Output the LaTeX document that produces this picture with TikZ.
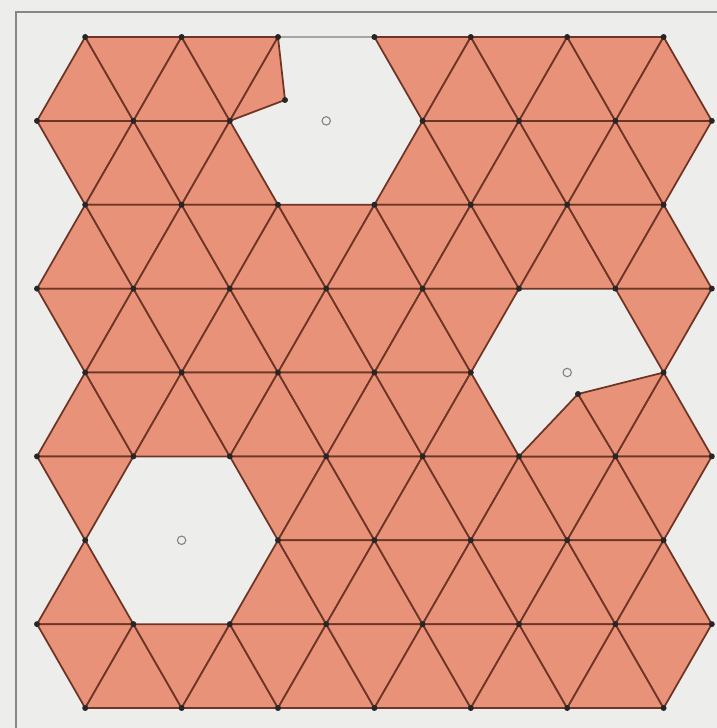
\documentclass[tikz,border=0pt]{standalone}
\usepackage{xcolor}
\usetikzlibrary{calc}

\definecolor{tilefill}{RGB}{232,147,121}
\definecolor{tileedge}{RGB}{110,52,38}
\definecolor{paper}{RGB}{237,238,236}
\definecolor{framegray}{RGB}{135,135,135}

\tikzset{
  tile/.style={fill=tilefill,draw=tileedge,line width=1pt,line join=round},
  site/.style={fill=black!85},
  hollow/.style={draw=gray,line width=0.6pt},
}

\begin{document}
\begin{tikzpicture}[x=0.02cm,y=-0.02cm]
% page and frame
\fill[paper] (0,0) rectangle (717,728);
\useasboundingbox (0,0) rectangle (717,728);
\draw[framegray,line width=1.6pt] (16,728) -- (16,12) -- (717,12);

% lattice sites
\foreach \j in {0,...,8}
  \foreach \i in {0,...,14}{
    \ifodd\numexpr\i+\j\relax
      \coordinate (v\i-\j) at ({37+\i*48.2},{37+\j*83.875});
    \fi
  }
\coordinate (d1) at (285,100);
\coordinate (d2) at (578,394);

% top edge of the first hole
\draw[gray!70,line width=1pt] (v5-0) -- (v7-0);

% triangles, holes left out
\foreach \j in {0,...,7}
  \foreach \i in {0,...,12}{
    \pgfmathtruncatemacro{\hole}{(\j==0 && \i>=4 && \i<=6) || (\j==1 && \i>=4 && \i<=6) || (\j==3 && \i>=9 && \i<=11) || (\j==4 && \i>=9 && \i<=11) || (\j==5 && \i>=1 && \i<=3) || (\j==6 && \i>=1 && \i<=3)}
    \ifnum\hole=0
      \pgfmathtruncatemacro{\ib}{\i+1}
      \pgfmathtruncatemacro{\ic}{\i+2}
      \pgfmathtruncatemacro{\ra}{\j+1-mod(\i+\j,2)}
      \pgfmathtruncatemacro{\rb}{\j+1-mod(\ib+\j,2)}
      \pgfmathtruncatemacro{\rc}{\j+1-mod(\ic+\j,2)}
      \filldraw[tile] (v\i-\ra) -- (v\ib-\rb) -- (v\ic-\rc) -- cycle;
    \fi
  }

% displaced triangles at the holes
\filldraw[tile] (v4-1) -- (v5-0) -- (d1) -- cycle;
\filldraw[tile] (v10-5) -- (d2) -- (v12-5) -- cycle;
\filldraw[tile] (d2) -- (v13-4) -- (v12-5) -- cycle;

% sites
\foreach \j in {0,...,8}
  \foreach \i in {0,...,14}{
    \ifodd\numexpr\i+\j\relax
      \pgfmathtruncatemacro{\ctr}{(\i==6 && \j==1) || (\i==11 && \j==4) || (\i==3 && \j==6)}
      \ifnum\ctr=0 \fill[site] (v\i-\j) circle (1.7pt); \fi
    \fi
  }
\fill[site] (d1) circle (1.7pt);
\fill[site] (d2) circle (1.7pt);

% hole centres
\draw[hollow] (v6-1) circle (2.4pt);
\draw[hollow] (v11-4) circle (2.4pt);
\draw[hollow] (v3-6) circle (2.4pt);
\end{tikzpicture}
\end{document}
